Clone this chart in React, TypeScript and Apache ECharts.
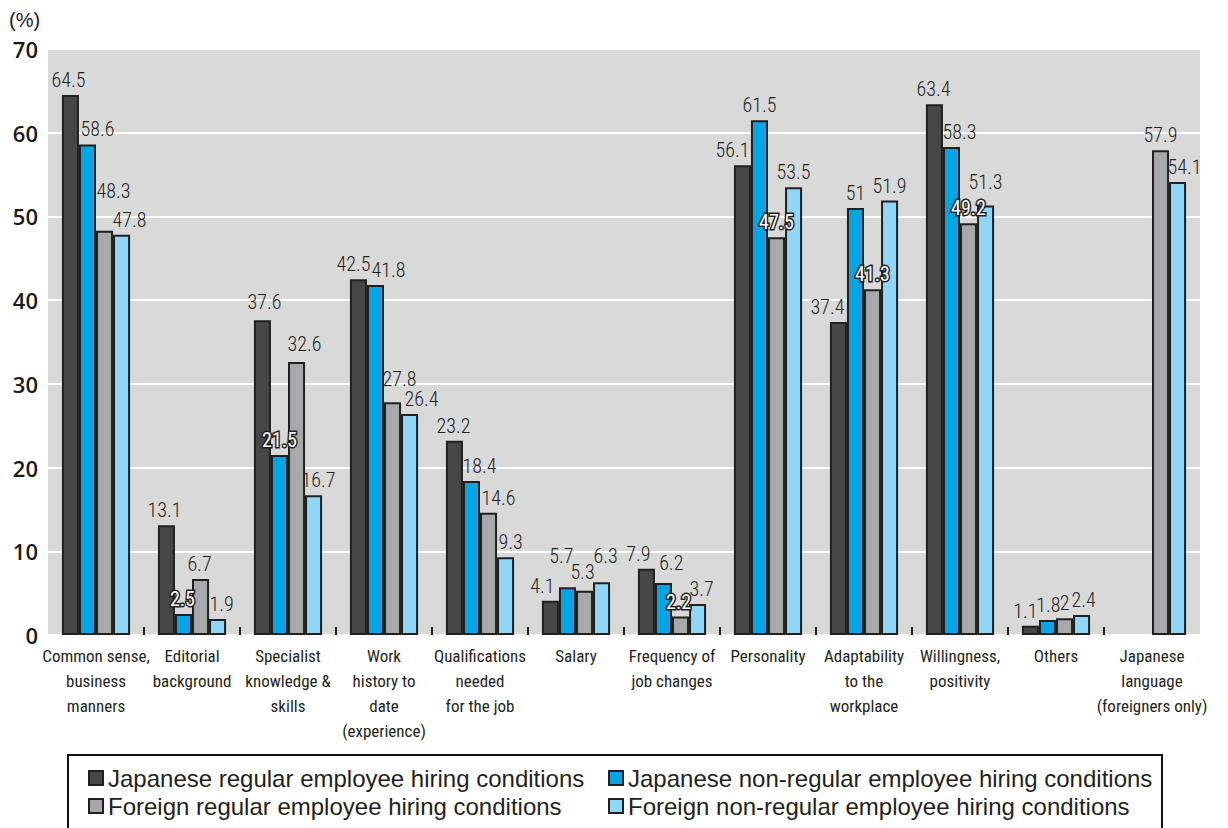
import React, { useEffect, useRef } from "react";
import * as echarts from "echarts";

// Hiring criteria, one category per group of bars
const categories = [
  "Common sense,\nbusiness\nmanners",
  "Editorial\nbackground",
  "Specialist\nknowledge &\nskills",
  "Work\nhistory to\ndate\n(experience)",
  "Qualifications\nneeded\nfor the job",
  "Salary",
  "Frequency of\njob changes",
  "Personality",
  "Adaptability\nto the\nworkplace",
  "Willingness,\npositivity",
  "Others",
  "Japanese\nlanguage\n(foreigners only)",
];

const seriesNames = [
  "Japanese regular employee hiring conditions",
  "Japanese non-regular employee hiring conditions",
  "Foreign regular employee hiring conditions",
  "Foreign non-regular employee hiring conditions",
];

// Values in %
const japaneseRegular = [64.5, 13.1, 37.6, 42.5, 23.2, 4.1, 7.9, 56.1, 37.4, 63.4, 1.1, null];
const japaneseNonRegular = [58.6, 2.5, 21.5, 41.8, 18.4, 5.7, 6.2, 61.5, 51, 58.3, 1.8, null];
const foreignRegular = [48.3, 6.7, 32.6, 27.8, 14.6, 5.3, 2.2, 47.5, 41.3, 49.2, 2, 57.9];
const foreignNonRegular = [47.8, 1.9, 16.7, 26.4, 9.3, 6.3, 3.7, 53.5, 51.9, 51.3, 2.4, 54.1];

const yMin = 0;
const yMax = 70;
const yStep = 10;

// Small nudges [dx, dy] so neighbouring value labels do not collide
const labelNudges: number[][][] = [
  [[-2, 0], [-2, 0], [2, -3], [-5, 0], [-1, 0], [-8, 0], [-8, 0], [-10, 0], [-11, 0], [-1, 0], [-5, 0], [0, 0]],
  [[10, 0], [-1, 0], [0, 0], [13, 0], [8, 0], [-6, -16], [8, -5], [0, 0], [0, 0], [8, 0], [1, 0], [0, 0]],
  [[9, -25], [-1, 0], [8, -3], [7, -8], [10, 0], [-2, -4], [-2, 0], [0, 0], [0, 0], [0, 0], [0, 0], [0, 0]],
  [[8, 0], [4, 0], [5, 0], [12, 0], [5, 0], [4, -11], [4, 0], [0, 0], [0, 0], [0, -9], [2, 0], [7, 0]],
];

// Labels that sit over a neighbouring bar are drawn white with a dark outline
const outlinedLabels: boolean[][] = [
  [false, false, false, false, false, false, false, false, false, false, false, false],
  [false, true, true, false, false, false, false, false, false, false, false, false],
  [false, false, false, false, false, false, true, true, true, true, false, false],
  [false, false, false, false, false, false, false, false, false, false, false, false],
];

const barColors = ["#47474a", "#00a7e4", "#a7a8ab", "#8ed7f6"];
const INK = "#231f20";
const NARROW = "'Roboto Condensed', 'Liberation Sans Narrow', sans-serif";
const SANS = "'Liberation Sans', Arial, sans-serif";

const seriesValues = [japaneseRegular, japaneseNonRegular, foreignRegular, foreignNonRegular];

function buildOption() {
  const series = seriesValues.map((vals, s) => ({
    type: "bar",
    name: seriesNames[s],
    xAxisIndex: 0,
    yAxisIndex: 0,
    barGap: "0%",
    barCategoryGap: "29%",
    itemStyle: { color: barColors[s], borderColor: INK, borderWidth: 2 },
    label: {
      show: true,
      position: "top",
      distance: 5,
      fontSize: 20,
      fontWeight: 300,
      fontFamily: NARROW,
      color: INK,
    },
    data: vals.map((v, i) => {
      if (v == null) return null;
      const lbl: any = { offset: labelNudges[s][i] };
      if (outlinedLabels[s][i]) {
        lbl.color = "#ffffff";
        lbl.fontWeight = "normal";
        lbl.textBorderColor = INK;
        lbl.textBorderWidth = 3;
      }
      return { value: v, label: lbl };
    }),
  }));

  const legendCommon = {
    orient: "vertical",
    top: 761,
    itemWidth: 14,
    itemHeight: 14,
    itemGap: 4,
    icon: "rect",
    selectedMode: false,
    itemStyle: { borderColor: INK, borderWidth: 2 },
    textStyle: { fontSize: 24, fontFamily: SANS, color: INK },
  };

  return {
    animation: false,
    backgroundColor: "#ffffff",
    grid: [
      {
        left: 48,
        right: 28,
        top: 49,
        bottom: 193,
        show: true,
        backgroundColor: "#d9d9d9",
        borderWidth: 0,
      },
      // carries only the short separator ticks between category groups
      { left: 144, right: 124, top: 49, bottom: 193, show: false },
    ],
    xAxis: [
      {
        type: "category",
        gridIndex: 0,
        data: categories,
        axisLine: { show: false },
        axisTick: { show: false },
        axisLabel: {
          interval: 0,
          fontSize: 17,
          lineHeight: 25,
          margin: 8,
          fontFamily: NARROW,
          color: INK,
        },
      },
      {
        type: "value",
        gridIndex: 1,
        min: 1,
        max: 11,
        interval: 1,
        axisLine: { show: false },
        axisTick: { show: true, inside: true, length: 8, lineStyle: { color: INK, width: 2 } },
        axisLabel: { show: false },
        splitLine: { show: false },
      },
    ],
    yAxis: [
      {
        type: "value",
        gridIndex: 0,
        min: yMin,
        max: yMax,
        interval: yStep,
        axisLine: { show: false },
        axisTick: { show: false },
        splitLine: { show: true, lineStyle: { color: "#ffffff", width: 2 } },
        axisLabel: {
          margin: 10,
          fontSize: 22,
          fontWeight: 600,
          fontFamily: "'Open Sans', sans-serif",
          color: "#1a1a1a",
        },
      },
      { type: "value", gridIndex: 1, show: false, min: 0, max: 1 },
    ],
    legend: [
      { ...legendCommon, left: 83, data: [seriesNames[0], seriesNames[2]] },
      { ...legendCommon, left: 603, data: [seriesNames[1], seriesNames[3]] },
    ],
    graphic: [
      {
        type: "text",
        left: 9,
        top: 10,
        style: { text: "(%)", fontSize: 20, fontFamily: SANS, fill: "#1a1a1a" },
      },
      {
        type: "rect",
        shape: { x: 68, y: 755, width: 1094, height: 100 },
        style: { fill: "none", stroke: "#111111", lineWidth: 2 },
      },
    ],
    series,
  };
}

export default function App() {
  const ref = useRef<HTMLDivElement>(null);
  useEffect(() => {
    if (!ref.current) return;
    const chart = echarts.init(ref.current, null, { renderer: "svg" });
    chart.setOption(buildOption() as any);
    return () => chart.dispose();
  }, []);
  return (
    <div
      ref={ref}
      style={{ position: "fixed", left: 0, top: 0, width: 1228, height: 828 }}
    />
  );
}
